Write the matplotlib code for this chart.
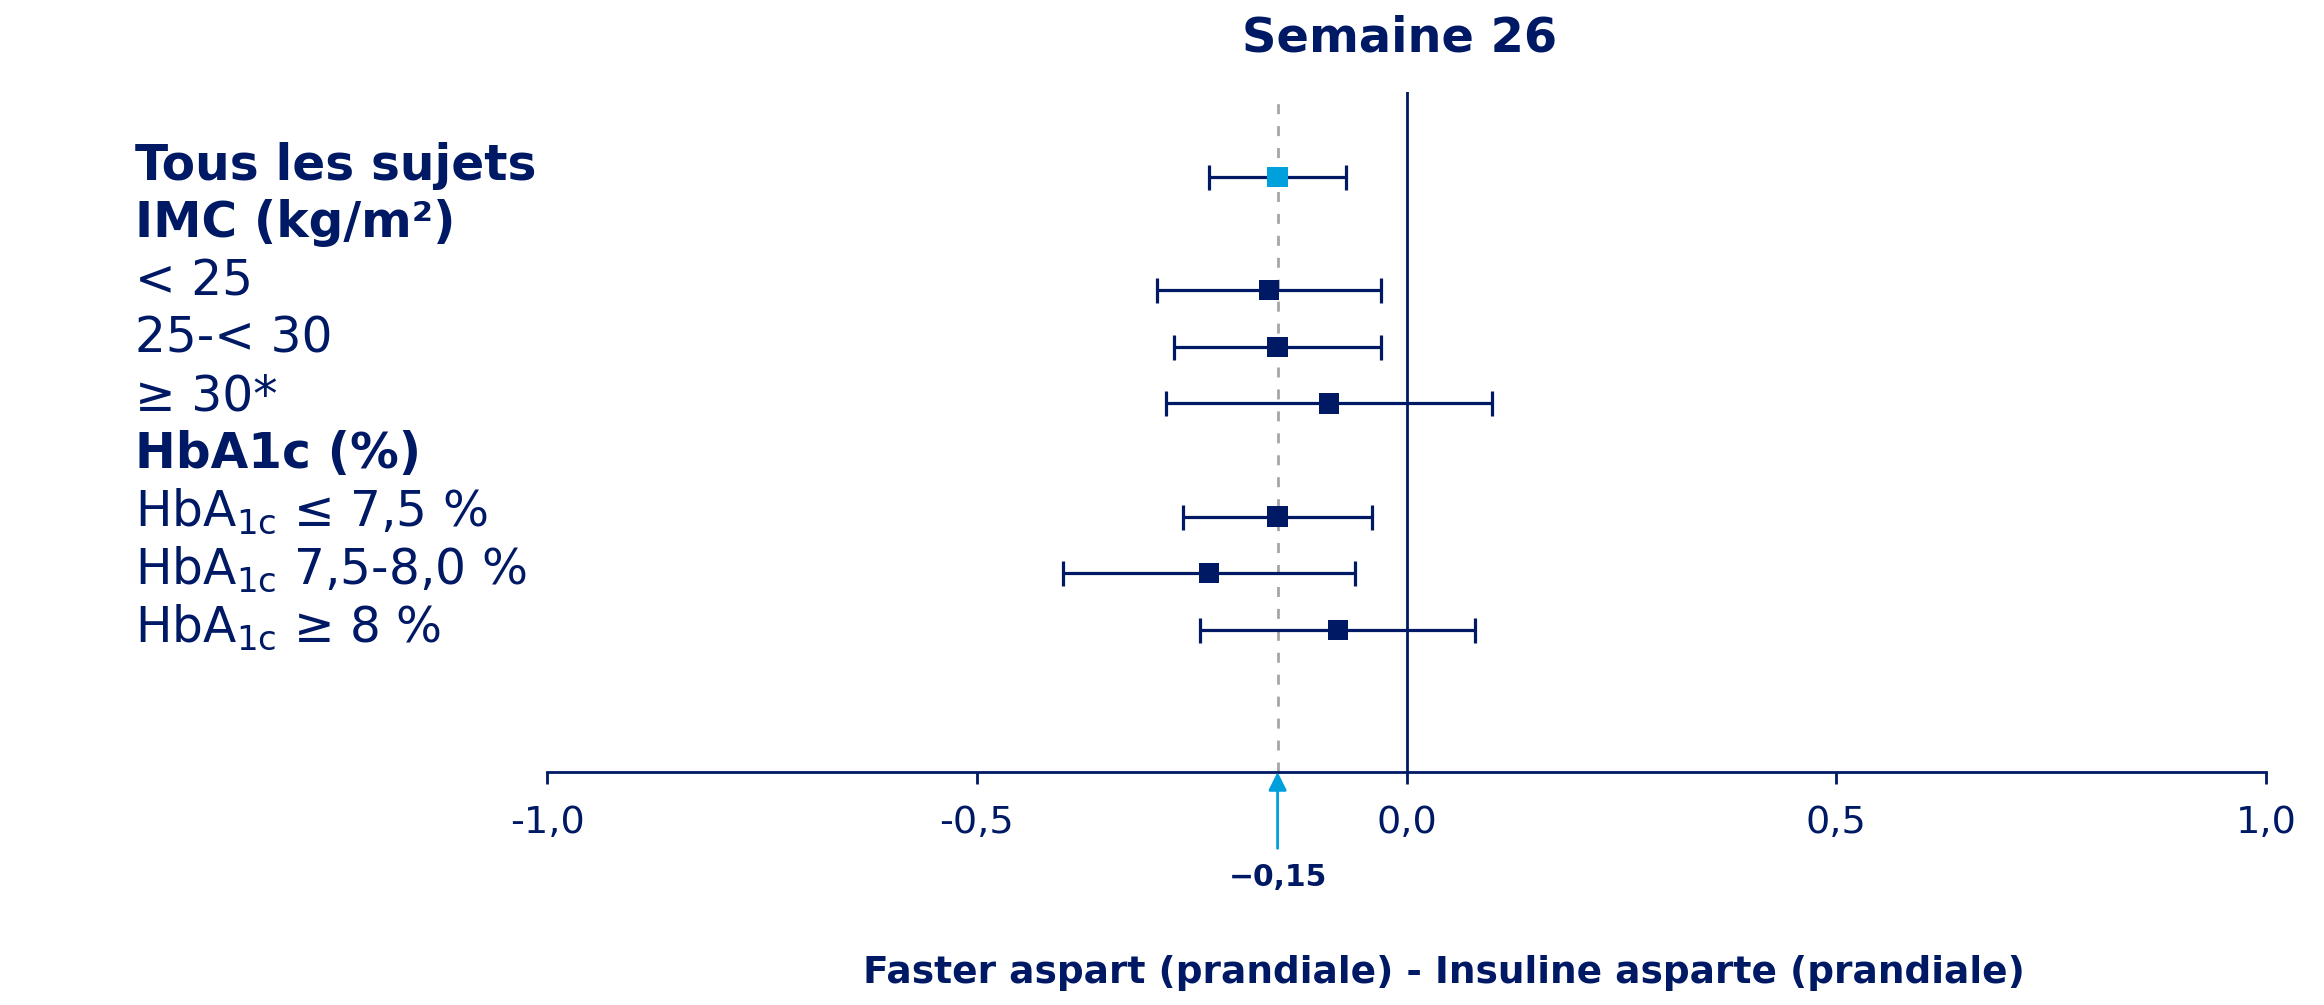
import matplotlib
matplotlib.use("Agg")
import matplotlib.pyplot as plt
import matplotlib.transforms as mtransforms
import numpy as np

NAVY = "#001965"
LIGHT = "#00A0DC"
GREY = "#A6A6A6"

# left-hand row labels (bold = section headers)
labels = ["Tous les sujets", "IMC (kg/m²)", "< 25", "25-< 30", "≥ 30*",
          "HbA1c (%)",
          "HbA$_{\\mathregular{1c}}$ ≤ 7,5 %",
          "HbA$_{\\mathregular{1c}}$ 7,5-8,0 %",
          "HbA$_{\\mathregular{1c}}$ ≥ 8 %"]
bold_rows = [0, 1, 5]

# estimates and 95% CI (treatment difference, %)
est_rows = [0, 2, 3, 4, 6, 7, 8]
estimate = [-0.15, -0.16, -0.15, -0.09, -0.15, -0.23, -0.08]
ci_low = [-0.23, -0.29, -0.27, -0.28, -0.26, -0.40, -0.24]
ci_high = [-0.07, -0.03, -0.03, 0.10, -0.04, -0.06, 0.08]
marker_colors = [LIGHT, NAVY, NAVY, NAVY, NAVY, NAVY, NAVY]

overall = -0.15
xticks = [-1.0, -0.5, 0.0, 0.5, 1.0]
xticklabels = ["-1,0", "-0,5", "0,0", "0,5", "1,0"]

fig = plt.figure(figsize=(23.24, 10.05), dpi=100)
ax = fig.add_axes([547 / 2324, 1 - 772 / 1005, (2266 - 547) / 2324, (772 - 92) / 1005])
ax.set_xlim(-1.0, 1.0)
ax.set_ylim(10.51, -1.50)

est = np.array(estimate)
lo = np.array(ci_low)
hi = np.array(ci_high)
ax.errorbar(est, est_rows, xerr=[est - lo, hi - est], fmt="none",
            ecolor=NAVY, elinewidth=2.3, capsize=9, capthick=2.3, zorder=2)
ax.scatter(est, est_rows, marker="s", s=215, c=marker_colors, linewidths=0, zorder=3)

ax.axvline(0, color=NAVY, lw=2, zorder=1)
ax.axvline(overall, color=GREY, lw=2, dashes=(3.6, 4.3), zorder=1)

for s in ["left", "right", "top"]:
    ax.spines[s].set_visible(False)
ax.spines["bottom"].set_color(NAVY)
ax.spines["bottom"].set_linewidth(2)
ax.set_yticks([])
ax.set_xticks(xticks)
ax.set_xticklabels(xticklabels)
ax.tick_params(axis="x", colors=NAVY, length=8.6, width=2, pad=15, labelsize=27.5)

# row labels: the text block has a slightly wider line pitch than the rows
trans = mtransforms.blended_transform_factory(fig.transFigure, ax.transData)
pitch = 57.75 / 56.65
for i, lab in enumerate(labels):
    ax.text(135 / 2324, 0.05 + i * pitch, lab, transform=trans, ha="left", va="baseline",
            fontsize=35, color=NAVY, fontweight="bold" if i in bold_rows else "normal")

# overall arrow and label
ax.annotate("", xy=(overall, 0), xycoords=("data", "axes fraction"),
            xytext=(0, -55), textcoords="offset points",
            arrowprops=dict(arrowstyle="-|>,head_length=1.1,head_width=0.55",
                            color=LIGHT, lw=2, shrinkA=0, shrinkB=0))
ax.annotate("−0,15", xy=(overall, 0), xycoords=("data", "axes fraction"),
            xytext=(0, -82), textcoords="offset points", ha="center", va="baseline",
            fontsize=21.5, fontweight="bold", color=NAVY)

fig.text(1400 / 2324, 1 - 52 / 1005, "Semaine 26", ha="center", va="baseline",
         fontsize=34.5, fontweight="bold", color=NAVY)
fig.text(1444 / 2324, 1 - 983 / 1005,
         "Faster aspart (prandiale) - Insuline asparte (prandiale)",
         ha="center", va="baseline", fontsize=27, fontweight="bold", color=NAVY)

fig.savefig("out.png", dpi=100)
